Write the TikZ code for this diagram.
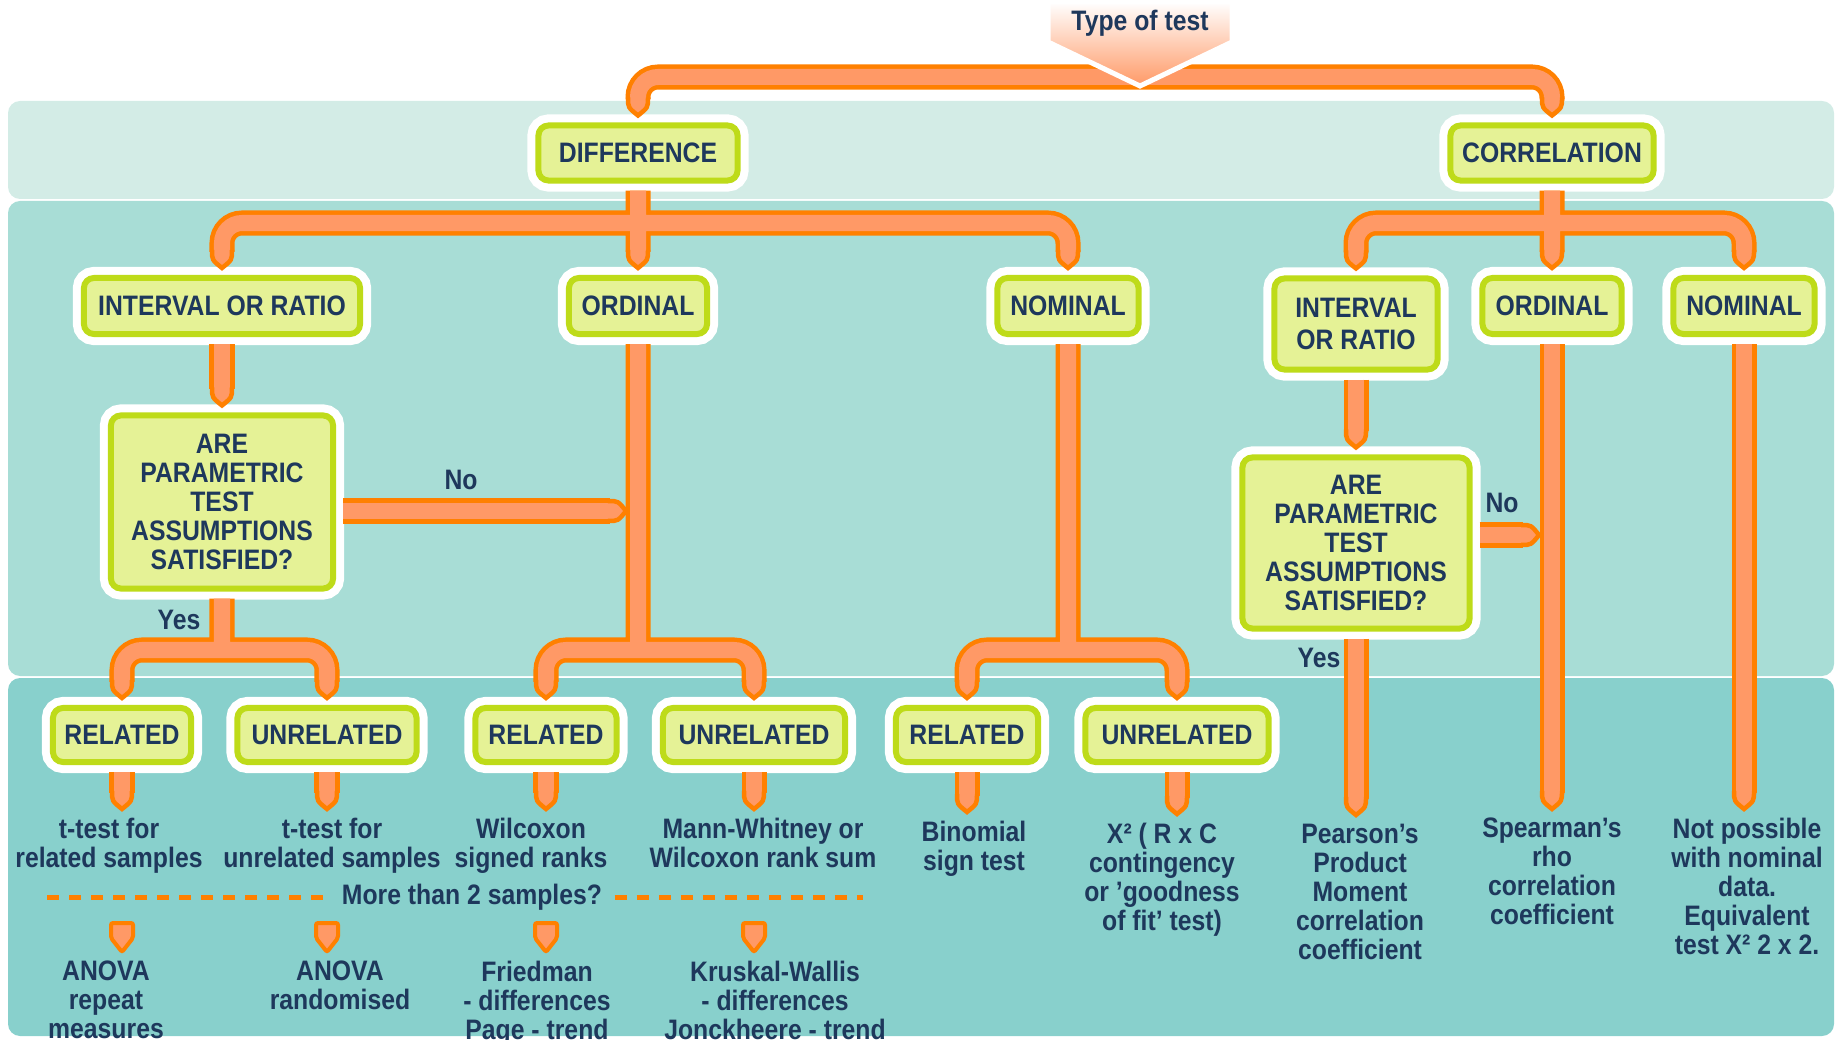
\documentclass[tikz,border=0pt]{standalone}
\usepackage{fontspec}
\setmainfont{Liberation Sans}[FakeStretch=0.88]
\usetikzlibrary{calc}
\definecolor{bandA}{RGB}{211,236,230}
\definecolor{bandB}{RGB}{168,221,214}
\definecolor{bandC}{RGB}{136,208,204}
\definecolor{boxF}{RGB}{229,242,150}
\definecolor{boxD}{RGB}{190,219,25}
\definecolor{pipeL}{RGB}{255,153,102}
\definecolor{pipeD}{RGB}{255,128,0}
\definecolor{navy}{RGB}{30,56,92}
\tikzset{
box/.style={draw=boxD,line width=0.06cm,fill=boxF,rounded corners=0.1cm,
	preaction={draw=white,line width=0.22cm},text=navy,inner sep=0pt,
	outer sep=0.1cm,align=center},
res/.style={align=center,inner sep=0.08cm,anchor=north,text=navy},
lbl/.style={text=navy,inner sep=0pt},
pipe/.style={draw=pipeL,line width=0.16cm,rounded corners=0.2cm,
	preaction={draw=pipeD,line width=0.25cm}},
dashline/.style={draw=pipeD,line width=0.05cm,dash pattern=on 0.12cm off 0.1cm}
}
\def\nib#1#2{
\begin{scope}[shift={#1},rotate=#2]
\fill[pipeL] (-12,-17) -- (12,-17) .. controls (12,-8) .. (0,0)
	.. controls (-12,-8) .. cycle;
\draw[pipeD,line width=0.045cm] (-10,-18) .. controls (-10,-8) .. (0,0)
	.. controls (10,-8) .. (10,-18);
\end{scope}
}
\def\drop#1#2{
\draw[pipe] (#1.south) -- ($(#1.south |- #2.north)+(0,-16)$);
\nib{(#1.south |- #2.north)}{0}
}
\def\stub#1{
\begin{scope}[shift={#1}]
\filldraw[fill=pipeL,draw=pipeD,line width=0.04cm,rounded corners=0.02cm]
	(-11,-29) -- (11,-29) -- (11,-14) -- (0,0) -- (-11,-14) -- cycle;
\end{scope}
}
\begin{document}
\begin{tikzpicture}[x=0.01cm,y=-0.01cm,font=\bfseries\fontsize{8}{8.25}\selectfont]
\useasboundingbox (0,0) rectangle (1839,1040);
\fill[bandA,rounded corners=0.12cm] (8,101) rectangle (1834,199);
\fill[bandB,rounded corners=0.12cm] (8,201) rectangle (1834,676);
\fill[bandC,rounded corners=0.12cm] (8,678) rectangle (1834,1036);

\node[box,minimum width=1.99cm,minimum height=0.55cm] (diff) at (638,153) {DIFFERENCE};
\node[box,minimum width=2.03cm,minimum height=0.55cm] (corr) at (1552,153) {CORRELATION};
\node[box,minimum width=2.76cm,minimum height=0.56cm] (iorL) at (222,306) {INTERVAL OR RATIO};
\node[box,minimum width=1.38cm,minimum height=0.56cm] (ordL) at (638,306) {ORDINAL};
\node[box,minimum width=1.41cm,minimum height=0.56cm] (nomL) at (1068,306) {NOMINAL};
\node[box,minimum width=1.63cm,minimum height=0.91cm] (iorR) at (1356,324) {INTERVAL\\[1pt]OR RATIO};
\node[box,minimum width=1.39cm,minimum height=0.56cm] (ordR) at (1552,306) {ORDINAL};
\node[box,minimum width=1.41cm,minimum height=0.56cm] (nomR) at (1744,306) {NOMINAL};
\node[box,minimum width=2.22cm,minimum height=1.73cm] (areL) at (222,502)
	{ARE\\PARAMETRIC\\TEST\\ASSUMPTIONS\\SATISFIED?};
\node[box,minimum width=2.27cm,minimum height=1.71cm] (areR) at (1356,543)
	{ARE\\PARAMETRIC\\TEST\\ASSUMPTIONS\\SATISFIED?};
\node[box,minimum width=1.38cm,minimum height=0.54cm] (relA) at (122,735) {RELATED};
\node[box,minimum width=1.79cm,minimum height=0.54cm] (unrA) at (327,735) {UNRELATED};
\node[box,minimum width=1.41cm,minimum height=0.54cm] (relB) at (546,735) {RELATED};
\node[box,minimum width=1.82cm,minimum height=0.54cm] (unrB) at (754,735) {UNRELATED};
\node[box,minimum width=1.42cm,minimum height=0.54cm] (relC) at (967,735) {RELATED};
\node[box,minimum width=1.83cm,minimum height=0.54cm] (unrC) at (1177,735) {UNRELATED};

\node[res] (ttA) at (109,809) {t-test for\\related samples};
\node[res] (ttB) at (332,809) {t-test for\\unrelated samples};
\node[res] (wil) at (531,809) {Wilcoxon\\signed ranks};
\node[res] (mann) at (763,809) {Mann-Whitney or\\Wilcoxon rank sum};
\node[res] (bin) at (974,812) {Binomial\\sign test};
\node[res] (chi) at (1162,814) {X² ( R x C\\contingency\\or 'goodness\\of fit' test)};
\node[res] (pear) at (1360,815) {Pearson's\\Product\\Moment\\correlation\\coefficient};
\node[res] (spear) at (1552,809) {Spearman's\\rho\\correlation\\coefficient};
\node[res] (notp) at (1747,809) {Not possible\\with nominal\\data.\\Equivalent\\test X² 2 x 2.};
\node[lbl] (more) at (472,897) {More than 2 samples?};
\node[res] (anA) at (106,952) {ANOVA\\repeat\\measures};
\node[res] (anB) at (340,952) {ANOVA\\randomised};
\node[res] (fried) at (537,952) {Friedman\\- differences\\Page - trend};
\node[res] (krus) at (775,952) {Kruskal-Wallis\\- differences\\Jonckheere - trend};

\node[lbl] (noA) at (461,480) {No};
\node[lbl] (yesA) at (179,620) {Yes};
\node[lbl] (noB) at (1502,503) {No};
\node[lbl] (yesB) at (1319,658) {Yes};

\coordinate (top) at (0,77);
\coordinate (midbar) at (0,223);
\coordinate (fork) at (0,650);
\coordinate (noL) at (626,511);
\coordinate (noR) at (1539,535);

\draw[pipe] ($(diff.north)+(0,-16)$) -- (diff.north |- top) -- (corr.north |- top)
	-- ($(corr.north)+(0,-16)$);
\nib{(diff.north)}{0}
\nib{(corr.north)}{0}

\draw[pipe] (diff.south) -- ($(ordL.north)+(0,-16)$)
	($(iorL.north)+(0,-16)$) -- (iorL.north |- midbar) -- (nomL.north |- midbar)
	-- ($(nomL.north)+(0,-16)$);
\nib{(iorL.north)}{0}
\nib{(ordL.north)}{0}
\nib{(nomL.north)}{0}

\draw[pipe] (corr.south) -- ($(ordR.north)+(0,-16)$)
	($(iorR.north)+(0,-16)$) -- (iorR.north |- midbar) -- (nomR.north |- midbar)
	-- ($(nomR.north)+(0,-16)$);
\nib{(iorR.north)}{0}
\nib{(ordR.north)}{0}
\nib{(nomR.north)}{0}

\draw[pipe] (iorL.south) -- ($(areL.north)+(0,-16)$);
\nib{(areL.north)}{0}
\draw[pipe] (iorR.south) -- ($(areR.north)+(0,-16)$);
\nib{(areR.north)}{0}

\draw[pipe] (areL.south) -- (areL.south |- fork)
	($(relA.north)+(0,-16)$) -- (relA.north |- fork) -- (unrA.north |- fork)
	-- ($(unrA.north)+(0,-16)$);
\draw[pipe] (ordL.south) -- (ordL.south |- fork)
	($(relB.north)+(0,-16)$) -- (relB.north |- fork) -- (unrB.north |- fork)
	-- ($(unrB.north)+(0,-16)$);
\draw[pipe] (nomL.south) -- (nomL.south |- fork)
	($(relC.north)+(0,-16)$) -- (relC.north |- fork) -- (unrC.north |- fork)
	-- ($(unrC.north)+(0,-16)$);
\nib{(relA.north)}{0}
\nib{(unrA.north)}{0}
\nib{(relB.north)}{0}
\nib{(unrB.north)}{0}
\nib{(relC.north)}{0}
\nib{(unrC.north)}{0}

\draw[pipe] (areL.east |- noL) -- ($(noL)+(-16,0)$);
\nib{(noL)}{90}
\draw[pipe] (areR.east |- noR) -- ($(noR)+(-16,0)$);
\nib{(noR)}{90}

\drop{relA}{ttA}
\drop{unrA}{ttB}
\drop{relB}{wil}
\drop{unrB}{mann}
\drop{relC}{bin}
\drop{unrC}{chi}
\drop{areR}{pear}
\drop{ordR}{spear}
\drop{nomR}{notp}

\draw[dashline,shorten >=0.1cm] (47,897) -- (more.west);
\draw[dashline,shorten <=0.12cm] (more.east) -- (863,897);
\stub{(relA.south |- anA.north)}
\stub{(unrA.south |- anB.north)}
\stub{(relB.south |- fried.north)}
\stub{(unrB.south |- krus.north)}

\shade[top color=white,bottom color=pipeL,draw=white,line width=0.05cm]
	(1048,2) -- (1232,2) -- (1232,42) -- (1140,86) -- (1048,42) -- cycle;
\node[lbl] (type) at (1140,23) {Type of test};
\end{tikzpicture}
\end{document}
